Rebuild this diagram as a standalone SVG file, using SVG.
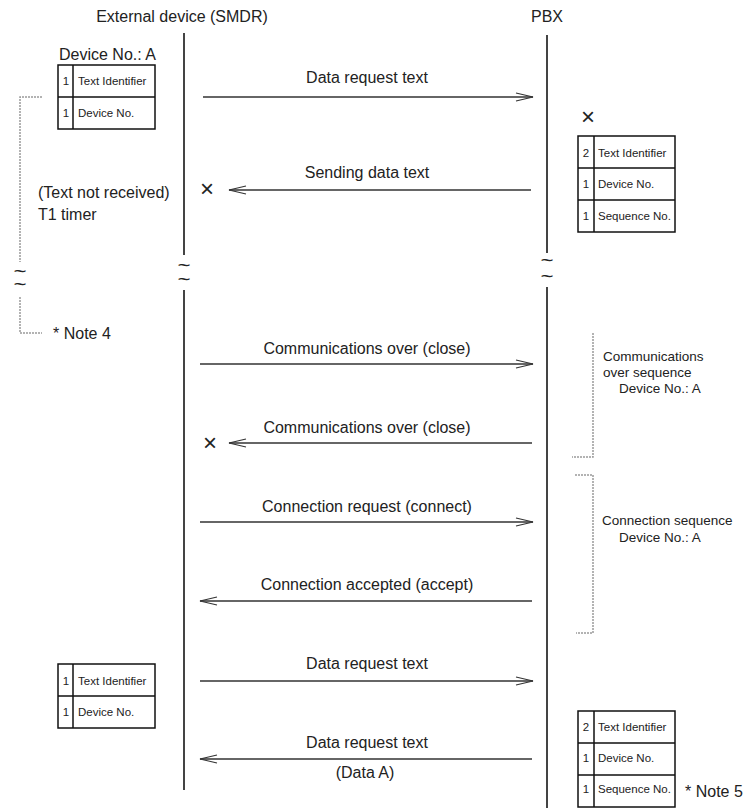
<svg xmlns="http://www.w3.org/2000/svg" width="746" height="808" viewBox="0 0 746 808">
<style>
text{font-family:"Liberation Sans",Arial,sans-serif;fill:#222}
.t{font-size:16px}
.lbl{font-size:16px;text-anchor:middle}
.sm{font-size:13.5px}
.cell{font-size:11.5px}
.til{font-size:12px;font-weight:bold;text-anchor:middle}
.life{stroke:#444;stroke-width:2;fill:none}
.msg{stroke:#333;stroke-width:1.3;fill:none}
.box{stroke:#111;stroke-width:1.5;fill:none}
.dot{stroke:#9a9a9a;stroke-width:1.5;stroke-dasharray:2,1;fill:none}
.x{font-size:24px;text-anchor:middle}
</style>
<defs>
<marker id="ah" markerUnits="userSpaceOnUse" markerWidth="20" markerHeight="10" refX="18" refY="5" orient="auto">
<path d="M1,1 L18,5 L1,9" fill="none" stroke="#333" stroke-width="1.2"/>
</marker>
</defs>
<rect width="746" height="808" fill="#fff"/>

<g id="ext-device">
<text class="lbl" x="182" y="22">External device (SMDR)</text>
<path class="life" d="M184,33 V255 M184,290 V790"/>
<text class="til" transform="translate(184,270) scale(1.8,1)">~</text>
<text class="til" transform="translate(184,284) scale(1.8,1)">~</text>
</g>

<g id="pbx">
<text class="lbl" x="547" y="22">PBX</text>
<path class="life" d="M547,35 V253 M547,287 V808"/>
<text class="til" transform="translate(547,265) scale(1.8,1)">~</text>
<text class="til" transform="translate(547,281) scale(1.8,1)">~</text>
</g>

<g id="box-ext-1">
<text class="t" x="59" y="60">Device No.: A</text>
<rect class="box" x="58" y="65" width="97" height="64"/>
<path class="box" d="M73,65 V129 M58,97 H155"/>
<text class="cell" x="66" y="85" text-anchor="middle">1</text>
<text class="cell" x="78" y="85">Text Identifier</text>
<text class="cell" x="66" y="117" text-anchor="middle">1</text>
<text class="cell" x="78" y="117">Device No.</text>
</g>

<g id="box-pbx-1">
<text class="x" x="588" y="125">×</text>
<rect class="box" x="578" y="136" width="97" height="96"/>
<path class="box" d="M594,136 V232 M578,168 H675 M578,200 H675"/>
<text class="cell" x="586" y="157" text-anchor="middle">2</text>
<text class="cell" x="598" y="157">Text Identifier</text>
<text class="cell" x="586" y="188" text-anchor="middle">1</text>
<text class="cell" x="598" y="188">Device No.</text>
<text class="cell" x="586" y="220" text-anchor="middle">1</text>
<text class="cell" x="598" y="220">Sequence No.</text>
</g>

<g id="timer-note">
<text class="t" x="38" y="198">(Text not received)</text>
<text class="t" x="38" y="220">T1 timer</text>
<path class="dot" d="M42,97 H20 V262 M20,297 V333 H42"/>
<text class="til" transform="translate(20,276) scale(1.8,1)">~</text>
<text class="til" transform="translate(20,289) scale(1.8,1)">~</text>
<text class="t" x="53" y="339">* Note 4</text>
</g>

<g id="comm-over-seq">
<path class="dot" d="M593,333 V457 H572"/>
<text class="sm" x="603" y="361">Communications</text>
<text class="sm" x="603" y="377">over sequence</text>
<text class="sm" x="619" y="393">Device No.: A</text>
</g>

<g id="conn-seq">
<path class="dot" d="M575,475 H593 V633 H576"/>
<text class="sm" x="602" y="525">Connection sequence</text>
<text class="sm" x="619" y="542">Device No.: A</text>
</g>

<g id="box-ext-2">
<rect class="box" x="58" y="664" width="97" height="64"/>
<path class="box" d="M73,664 V728 M58,696 H155"/>
<text class="cell" x="66" y="685" text-anchor="middle">1</text>
<text class="cell" x="78" y="685">Text Identifier</text>
<text class="cell" x="66" y="716" text-anchor="middle">1</text>
<text class="cell" x="78" y="716">Device No.</text>
</g>

<g id="box-pbx-2">
<rect class="box" x="578" y="711" width="97" height="96"/>
<path class="box" d="M594,711 V807 M578,743 H675 M578,775 H675"/>
<text class="cell" x="586" y="731" text-anchor="middle">2</text>
<text class="cell" x="598" y="731">Text Identifier</text>
<text class="cell" x="586" y="762" text-anchor="middle">1</text>
<text class="cell" x="598" y="762">Device No.</text>
<text class="cell" x="586" y="793" text-anchor="middle">1</text>
<text class="cell" x="598" y="793">Sequence No.</text>
<text class="t" x="685" y="797">* Note 5</text>
</g>

<g id="connectors">
<line class="msg" x1="203" y1="97" x2="533" y2="97" marker-end="url(#ah)"/>
<text class="lbl" x="367" y="83">Data request text</text>

<line class="msg" x1="531" y1="190" x2="229" y2="190" marker-end="url(#ah)"/>
<text class="lbl" x="367" y="178">Sending data text</text>
<text class="x" x="207" y="197">×</text>

<line class="msg" x1="200" y1="364" x2="533" y2="364" marker-end="url(#ah)"/>
<text class="lbl" x="367" y="354">Communications over (close)</text>

<line class="msg" x1="532" y1="443" x2="229" y2="443" marker-end="url(#ah)"/>
<text class="lbl" x="367" y="433">Communications over (close)</text>
<text class="x" x="210" y="451">×</text>

<line class="msg" x1="200" y1="522" x2="533" y2="522" marker-end="url(#ah)"/>
<text class="lbl" x="367" y="512">Connection request (connect)</text>

<line class="msg" x1="532" y1="601" x2="200" y2="601" marker-end="url(#ah)"/>
<text class="lbl" x="367" y="590">Connection accepted (accept)</text>

<line class="msg" x1="200" y1="681" x2="533" y2="681" marker-end="url(#ah)"/>
<text class="lbl" x="367" y="669">Data request text</text>

<line class="msg" x1="532" y1="759" x2="200" y2="759" marker-end="url(#ah)"/>
<text class="lbl" x="367" y="748">Data request text</text>
<text class="lbl" x="365" y="778">(Data A)</text>
</g>
</svg>
